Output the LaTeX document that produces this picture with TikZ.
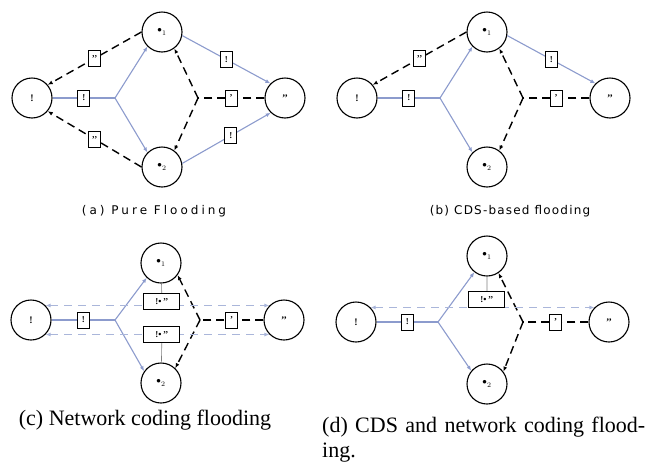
\documentclass[tikz,border=0pt]{standalone}
\usepackage{fontspec}
\setmainfont{Liberation Serif}
\newfontfamily\capfonta[LetterSpace=25]{DejaVu Sans}
\newfontfamily\capfontb[LetterSpace=10]{DejaVu Sans}
\usetikzlibrary{arrows.meta}

\definecolor{bluegray}{RGB}{140,155,205}
\definecolor{lightblue}{RGB}{170,182,218}

\newcommand{\relaymark}[1]{{\fontsize{13}{13}\selectfont\textbullet}$_{#1}$}

\tikzset{
  host/.style={circle, draw, line width=1.1pt, minimum size=40pt, inner sep=0pt,
    font=\fontsize{10}{10}\selectfont\bfseries},
  pkt/.style={draw=black, solid, text=black, line width=1pt, fill=white, minimum width=12pt,
    minimum height=16pt, inner sep=1pt, font=\fontsize{9}{9}\selectfont\bfseries},
  widepkt/.style={pkt, minimum width=36pt},
  cds/.style={draw=bluegray, line width=1.1pt, -{Latex[length=5pt,width=4pt]}},
  ack/.style={draw=black, line width=1.4pt, dash pattern=on 8pt off 5pt,
    -{Latex[length=5pt,width=4pt]}},
  coded/.style={draw=lightblue, line width=1.1pt, dash pattern=on 8pt off 6pt,
    {Latex[length=5pt,width=4pt]}-{Latex[length=5pt,width=4pt]}},
  tie/.style={draw=gray, line width=0.6pt},
  capab/.style={font=\fontsize{12}{14}\selectfont},
  capcd/.style={font=\fontsize{22}{25}\selectfont}
}

\begin{document}
\begin{tikzpicture}[x=1pt, y=-1pt]
  \useasboundingbox (0,0) rectangle (646,472);

  % (a) pure flooding
  \node[host] (a-s) at (32,98) {!};
  \node[host] (a-r1) at (162,32) {\relaymark{1}};
  \node[host] (a-r2) at (162,167) {\relaymark{2}};
  \node[host] (a-d) at (285,98) {{'}{'}};
  \coordinate (a-j1) at (115,98);
  \coordinate (a-j2) at (198,98);
  \draw[cds, -] (a-s) -- node[pkt] {!} (a-j1);
  \draw[cds] (a-j1) -- (a-r1.225);
  \draw[cds] (a-j1) -- (a-r2.135);
  \draw[cds] (a-r1.-10) -- node[pkt] {!} (a-d.135);
  \draw[cds] (a-r2.10) -- node[pkt, pos=0.55] {!} (a-d.-134);
  \draw[ack] (a-r1.west) -- node[pkt] {{'}{'}} (a-s.40);
  \draw[ack] (a-r2.west) -- node[pkt] {{'}{'}} (a-s.-40);
  \draw[ack, -] (a-d) -- node[pkt] {'} (a-j2);
  \draw[ack] (a-j2) -- (a-r1.-53);
  \draw[ack] (a-j2) -- (a-r2.53);
  \node[capab] (a-cap) at (154,211) {\capfonta (a) Pure Flooding};

  % (b) CDS-based flooding
  \node[host] (b-s) at (357,98) {!};
  \node[host] (b-r1) at (487,32) {\relaymark{1}};
  \node[host] (b-r2) at (487,167) {\relaymark{2}};
  \node[host] (b-d) at (610,98) {{'}{'}};
  \coordinate (b-j1) at (440,98);
  \coordinate (b-j2) at (523,98);
  \draw[cds, -] (b-s) -- node[pkt] {!} (b-j1);
  \draw[cds] (b-j1) -- (b-r1.225);
  \draw[cds] (b-j1) -- (b-r2.135);
  \draw[cds] (b-r1.-10) -- node[pkt] {!} (b-d.135);
  \draw[ack] (b-r1.west) -- node[pkt] {{'}{'}} (b-s.40);
  \draw[ack, -] (b-d) -- node[pkt] {'} (b-j2);
  \draw[ack] (b-j2) -- (b-r1.-53);
  \draw[ack] (b-j2) -- (b-r2.53);
  \node[capab] (b-cap) at (510,211) {\capfontb (b) CDS-based flooding};

  % (c) network coding flooding
  \node[host] (c-s) at (31,320) {!};
  \node[host] (c-r1) at (161,263) {\relaymark{1}};
  \node[host] (c-r2) at (161,383) {\relaymark{2}};
  \node[host] (c-d) at (284,320) {{'}{'}};
  \coordinate (c-j1) at (115,320);
  \coordinate (c-j2) at (200,320);
  \draw[cds, -] (c-s) -- node[pkt] {!} (c-j1);
  \draw[cds] (c-j1) -- (c-r1.226);
  \draw[cds] (c-j1) -- (c-r2.145);
  \draw[ack, -] (c-d) -- node[pkt] {'} (c-j2);
  \draw[ack] (c-j2) -- (c-r1.-36);
  \draw[ack] (c-j2) -- (c-r2.46);
  \draw[coded] (c-s.45) -- node[widepkt, pos=0.52, yshift=4pt] (c-x1) {!\textbullet\,{'}{'}} (c-d.135);
  \draw[coded] (c-s.-45) -- node[widepkt, pos=0.52] (c-x2) {!\textbullet\,{'}{'}} (c-d.-135);
  \draw[tie] (c-r1) -- (c-x1);
  \draw[tie] (c-x2) -- (c-r2);
  \node[capcd] (c-cap) at (145,420) {(c) Network coding flooding};

  % (d) CDS and network coding flooding
  \node[host] (d-s) at (356,322) {!};
  \node[host] (d-r1) at (487,256) {\relaymark{1}};
  \node[host] (d-r2) at (487,384) {\relaymark{2}};
  \node[host] (d-d) at (609,322) {{'}{'}};
  \coordinate (d-j1) at (438,322);
  \coordinate (d-j2) at (523,322);
  \draw[cds, -] (d-s) -- node[pkt] {!} (d-j1);
  \draw[cds] (d-j1) -- (d-r1.232);
  \draw[cds] (d-j1) -- (d-r2.140);
  \draw[ack, -] (d-d) -- node[pkt] {'} (d-j2);
  \draw[ack] (d-j2) -- (d-r1.-56);
  \draw[ack] (d-j2) -- (d-r2.37);
  \draw[coded] (d-s.45) -- node[widepkt, pos=0.52, yshift=8pt] (d-x1) {!\textbullet\,{'}{'}} (d-d.135);
  \draw[tie] (d-r1) -- (d-x1);
  \node[capcd, anchor=north west, text width=323pt, align=justify, inner sep=0pt] (d-cap)
    at (322,417) {(d) CDS and network coding flood-\linebreak ing.};
\end{tikzpicture}
\end{document}
